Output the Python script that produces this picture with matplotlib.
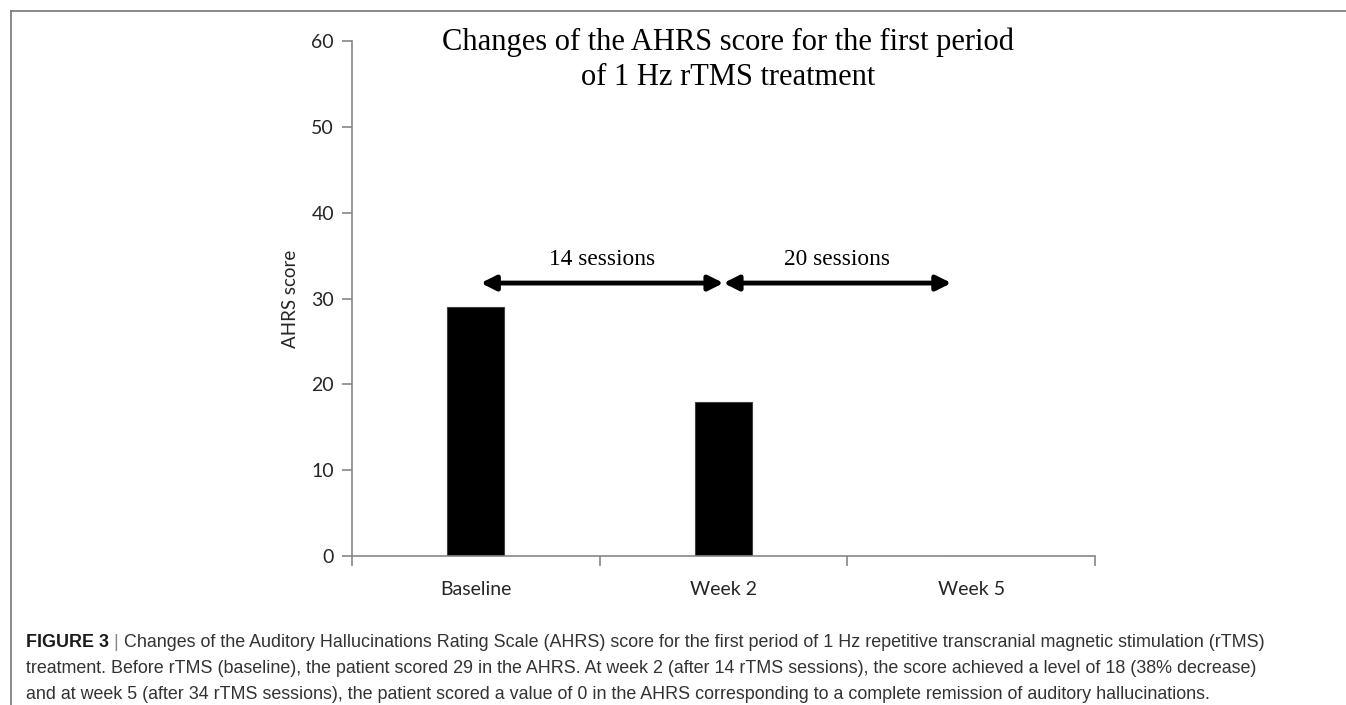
import matplotlib
matplotlib.use('Agg')
from matplotlib import pyplot as plt
from matplotlib.lines import Line2D

# data
categories = ['Baseline', 'Week 2', 'Week 5']
scores = [29, 18, 0]
yticks = [0, 10, 20, 30, 40, 50, 60]
periods = ['14 sessions', '20 sessions']
period_start = [0.02, 1.0]
period_end = [1.0, 1.92]

title_lines = ['Changes of the AHRS score for the first period', 'of 1 Hz rTMS treatment']
caption_lines = [
    'Changes of the Auditory Hallucinations Rating Scale (AHRS) score for the first period of 1 Hz repetitive transcranial magnetic stimulation (rTMS)',
    'treatment. Before rTMS (baseline), the patient scored 29 in the AHRS. At week 2 (after 14 rTMS sessions), the score achieved a level of 18 (38% decrease)',
    'and at week 5 (after 34 rTMS sessions), the patient scored a value of 0 in the AHRS corresponding to a complete remission of auditory hallucinations.',
]

W, H = 1346, 705
fig = plt.figure(figsize=(W / 100, H / 100), dpi=100)
ax = fig.add_axes([352 / W, 1 - 556 / H, 743 / W, 515 / H])

axcol = '#868686'
ax.bar(range(len(categories)), scores, width=0.23, color='black', edgecolor='#404040', linewidth=0.8)
ax.set_xlim(-0.5, 2.5)
ax.set_ylim(0, 60)
ax.set_yticks(yticks)
ax.set_xticks([-0.5, 0.5, 1.5, 2.5], minor=False)
ax.set_xticklabels([])
ax.set_xticks(range(len(categories)), minor=True)
ax.set_xticklabels(categories, minor=True)
ax.tick_params(axis='x', which='minor', length=0, pad=18)
ax.tick_params(axis='x', which='major', length=7, color=axcol, width=1.2)
ax.tick_params(axis='y', length=7, color=axcol, width=1.2, pad=6)
for lab in ax.get_yticklabels() + ax.get_xticklabels(minor=True):
    lab.set_fontfamily('Lato')
    lab.set_fontsize(14)
    lab.set_color('#262626')
for s in ['top', 'right']:
    ax.spines[s].set_visible(False)
for s in ['left', 'bottom']:
    ax.spines[s].set_color(axcol)
    ax.spines[s].set_linewidth(1.2)
ax.set_ylabel('AHRS score', fontfamily='Lato', fontsize=13.5, color='#262626', labelpad=9)

# session arrows
for lab, x0, x1 in zip(periods, period_start, period_end):
    ax.annotate('', xy=(x1, 31.8), xytext=(x0, 31.8),
                arrowprops=dict(arrowstyle='<|-|>', color='black', lw=3.5,
                                mutation_scale=22, shrinkA=0, shrinkB=0))
    ax.text((x0 + x1) / 2, 34.6, lab, ha='center', va='center',
            fontfamily='Liberation Serif', fontsize=16.8)

# title
for i, line in enumerate(title_lines):
    fig.text(728 / W, 1 - (50 + 35 * i) / H, line, ha='center', va='baseline',
             fontfamily='Liberation Serif', fontsize=22)

# border
fig.add_artist(Line2D([11 / W, 1], [1 - 11 / H, 1 - 11 / H], color='#808080', lw=1.3))
fig.add_artist(Line2D([11 / W, 11 / W], [0, 1 - 11 / H], color='#808080', lw=1.3))

# caption
cap_font = ['Liberation Sans']
fs = 12.9
t1 = fig.text(26 / W, 1 - 647 / H, 'FIGURE 3', fontfamily=cap_font, fontsize=fs,
              weight='bold', va='baseline', color='#1a1a1a')
t2 = ax.annotate(' | ', xy=(1, 0), xycoords=t1, va='bottom', ha='left',
                 fontfamily=cap_font, fontsize=fs, color='#888888', annotation_clip=False)
ax.annotate(caption_lines[0], xy=(1, 0), xycoords=t2, va='bottom', ha='left',
            fontfamily=cap_font, fontsize=fs, color='#333333', annotation_clip=False)
for i, line in enumerate(caption_lines[1:]):
    fig.text(26 / W, 1 - (673 + 26 * i) / H, line, fontfamily=cap_font, fontsize=fs,
             va='baseline', color='#333333')

fig.savefig('out.png', dpi=100)
